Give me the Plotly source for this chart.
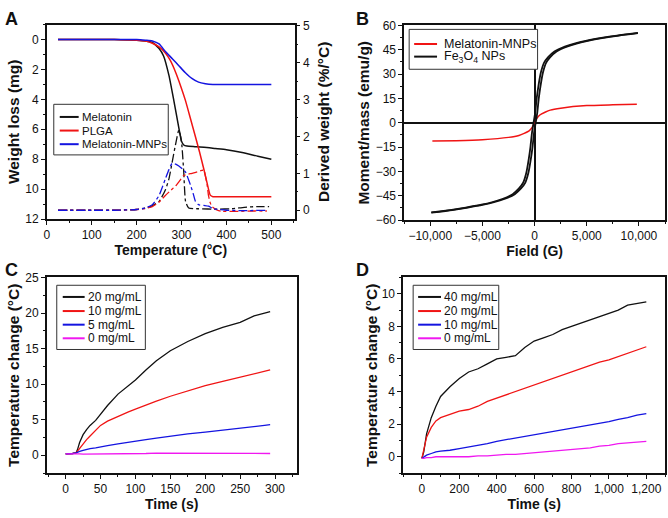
import plotly.graph_objects as go

# ---------------- Panel A data (TGA) ----------------
mel_T = [25, 150, 200, 220, 235, 250, 260, 272, 283, 294, 300, 305, 312, 330, 350, 375, 400, 435, 470, 500]
mel_W = [0, 0, 0.05, 0.1, 0.2, 0.6, 1.1, 2.4, 4.1, 5.9, 6.8, 7.05, 7.12, 7.16, 7.2, 7.28, 7.36, 7.55, 7.8, 8.0]
plga_T = [25, 150, 200, 220, 235, 250, 264, 275, 287, 298, 309, 320, 331, 340, 350, 357, 364, 370, 400, 450, 500]
plga_W = [0, 0, 0.05, 0.1, 0.25, 0.5, 0.9, 1.4, 2.2, 3.1, 4.1, 5.3, 6.5, 7.5, 8.7, 9.6, 10.4, 10.5, 10.5, 10.5, 10.5]
mnp_T = [25, 150, 200, 220, 235, 250, 264, 280, 294, 308, 323, 338, 353, 370, 400, 450, 500]
mnp_W = [0, 0, 0, 0.05, 0.1, 0.3, 0.8, 1.3, 1.75, 2.2, 2.6, 2.85, 2.95, 3.0, 3.0, 3.0, 3.0]

dmel_T = [25, 100, 150, 200, 220, 235, 250, 264, 272, 279, 287, 294, 298, 301, 305, 309, 316, 338, 380, 412, 440, 470, 495]
dmel_D = [0, 0, 0, 0.02, 0.06, 0.12, 0.24, 0.55, 0.85, 1.29, 1.8, 2.17, 2.0, 1.73, 1.03, 0.24, 0.06, 0.04, 0.03, 0.04, 0.08, 0.1, 0.1]
dplga_T = [25, 100, 150, 200, 220, 235, 250, 264, 277, 287, 296, 305, 323, 335, 345, 350, 353, 357, 360, 364, 368, 380, 390, 420, 460, 490]
dplga_D = [0, 0, 0, 0.02, 0.05, 0.1, 0.22, 0.4, 0.55, 0.66, 0.8, 0.94, 1.0, 1.04, 1.08, 1.08, 0.94, 0.7, 0.4, 0.2, 0.1, 0.0, -0.03, -0.03, -0.02, -0.02]
dmnp_T = [25, 100, 150, 200, 220, 235, 250, 264, 272, 279, 287, 294, 302, 309, 315, 320, 326, 331, 338, 350, 360, 371, 400, 440, 490]
dmnp_D = [0, 0, 0, 0.02, 0.06, 0.15, 0.4, 0.85, 1.1, 1.27, 1.25, 1.2, 1.12, 1.03, 0.85, 0.68, 0.45, 0.24, 0.15, 0.13, 0.11, 0.04, 0.0, -0.01, 0.0]

# ---------------- Panel B data (magnetization) ----------------
fe_up_H = [-9900, -7900, -6400, -4900, -3900, -2900, -1900, -1300, -900, -600, -350, -200, -50, 100, 250, 400, 550, 800, 1100, 1500, 2100, 3100, 4100, 5100, 6600, 8100, 9900]
fe_up_M = [-55.4, -53.8, -52.3, -50.5, -49, -47, -44, -40.5, -37, -31, -22, -15, -6, 0, 6, 15, 22, 31, 37, 40.5, 44, 47, 49, 50.5, 52.3, 53.8, 55.3]
fe_dn_H = [9900, 7900, 6400, 4900, 3900, 2900, 1900, 1300, 900, 600, 350, 200, 50, -100, -250, -400, -550, -800, -1100, -1500, -2100, -3100, -4100, -5100, -6600, -8100, -9900]
fe_dn_M = [55.4, 53.8, 52.3, 50.5, 49, 47, 44, 40.5, 37, 31, 22, 15, 6, 0, -6, -15, -22, -31, -37, -40.5, -44, -47, -49, -50.5, -52.3, -53.8, -55.3]
mm_H = [-9800, -7500, -5000, -2500, -1500, -1000, -500, -250, 0, 250, 500, 1000, 1500, 2500, 5000, 7500, 9800]
mm_M = [-11.3, -11.0, -10.4, -9.0, -7.8, -6.5, -4.8, -3.0, 0, 3.0, 4.8, 6.5, 7.8, 9.0, 10.6, 11.1, 11.5]

# ---------------- Panel C data ----------------
c_t = [0, 5, 10, 15, 17, 20, 25, 30, 35, 43, 50, 60, 75, 90, 100, 115, 130, 150, 175, 200, 225, 250, 270, 285, 293]
c_20 = [0.2, 0.2, 0.25, 0.35, 0.8, 1.8, 2.9, 3.6, 4.2, 4.9, 5.8, 7.0, 8.6, 9.8, 10.6, 12.0, 13.3, 14.7, 16.0, 17.1, 18.0, 18.7, 19.6, 20.0, 20.2]
c_10 = [0.2, 0.2, 0.25, 0.35, 0.6, 1.0, 1.6, 2.2, 2.7, 3.5, 4.2, 4.8, 5.5, 6.1, 6.5, 7.1, 7.6, 8.3, 9.1, 9.8, 10.4, 11.0, 11.4, 11.8, 12.0]
c_5 = [0.2, 0.2, 0.25, 0.35, 0.45, 0.55, 0.7, 0.85, 0.95, 1.05, 1.2, 1.35, 1.6, 1.85, 2.0, 2.2, 2.4, 2.7, 3.0, 3.25, 3.5, 3.8, 4.05, 4.2, 4.3]
c_0 = [0.2, 0.2, 0.25, 0.3, 0.3, 0.2, 0.15, 0.15, 0.2, 0.15, 0.15, 0.2, 0.15, 0.2, 0.2, 0.25, 0.3, 0.3, 0.25, 0.2, 0.2, 0.25, 0.2, 0.25, 0.25]

# ---------------- Panel D data ----------------
d_t = [0, 10, 25, 50, 75, 100, 150, 200, 250, 300, 350, 400, 450, 500, 550, 600, 650, 700, 750, 800, 850, 900, 950, 1000, 1050, 1100, 1150, 1200]
d_40 = [-0.1, 0.3, 1.4, 2.4, 3.1, 3.7, 4.3, 4.8, 5.2, 5.4, 5.7, 6.0, 6.1, 6.2, 6.7, 7.1, 7.3, 7.5, 7.8, 8.0, 8.2, 8.4, 8.6, 8.8, 9.0, 9.3, 9.4, 9.5]
d_20 = [-0.1, 0.5, 1.2, 1.8, 2.2, 2.4, 2.6, 2.8, 2.9, 3.1, 3.4, 3.6, 3.8, 4.0, 4.2, 4.4, 4.6, 4.8, 5.0, 5.2, 5.4, 5.6, 5.8, 5.95, 6.15, 6.35, 6.55, 6.75]
d_10 = [-0.1, 0.0, 0.1, 0.2, 0.3, 0.35, 0.4, 0.5, 0.6, 0.7, 0.8, 0.95, 1.05, 1.15, 1.25, 1.35, 1.45, 1.55, 1.65, 1.75, 1.85, 1.95, 2.05, 2.15, 2.3, 2.4, 2.55, 2.65]
d_0 = [-0.1, -0.1, -0.05, -0.05, 0.0, 0.0, 0.0, 0.0, 0.0, 0.05, 0.05, 0.1, 0.15, 0.15, 0.2, 0.25, 0.3, 0.35, 0.4, 0.45, 0.5, 0.55, 0.65, 0.7, 0.8, 0.85, 0.9, 0.95]

# legend labels
legA = ["Melatonin", "PLGA", "Melatonin-MNPs"]
legB = ["Melatonin-MNPs", "Fe<sub>3</sub>O<sub>4</sub> NPs"]
legC = ["20 mg/mL", "10 mg/mL", "5 mg/mL", "0 mg/mL"]
legD = ["40 mg/mL", "20 mg/mL", "10 mg/mL", "0 mg/mL"]

BLACK = "#111111"
RED = "#f01414"
BLUE = "#1414e0"
MAG = "#f018f0"
FONT = "Liberation Sans"

fig = go.Figure()

def line(x, y, color, name, xa, ya, dash="solid", width=1.5, spline=True):
    ln = dict(color=color, width=width, dash=dash)
    if spline:
        ln.update(shape="spline", smoothing=0.5)
    fig.add_trace(go.Scatter(x=x, y=y, mode="lines", name=name, xaxis=xa, yaxis=ya,
                             line=ln, showlegend=False))

# Panel A
line(mel_T, mel_W, BLACK, legA[0], "x", "y")
line(plga_T, plga_W, RED, legA[1], "x", "y")
line(mnp_T, mnp_W, BLUE, legA[2], "x", "y")
line(dmel_T, dmel_D, BLACK, legA[0] + " (derived)", "x", "y2", "dashdot", 1.3)
line(dplga_T, dplga_D, RED, legA[1] + " (derived)", "x", "y2", "dashdot", 1.3)
line(dmnp_T, dmnp_D, BLUE, legA[2] + " (derived)", "x", "y2", "dashdot", 1.3)

# Panel B
line(mm_H, mm_M, RED, legB[0], "x2", "y3")
line(fe_up_H, fe_up_M, BLACK, legB[1], "x2", "y3", width=1.8)
line(fe_dn_H, fe_dn_M, BLACK, legB[1], "x2", "y3", width=1.8)

# Panel C
for yy, col, nm in zip([c_20, c_10, c_5, c_0], [BLACK, RED, BLUE, MAG], legC):
    line(c_t, yy, col, nm, "x3", "y4", width=1.3, spline=False)
# Panel D
for yy, col, nm in zip([d_40, d_20, d_10, d_0], [BLACK, RED, BLUE, MAG], legD):
    line(d_t, yy, col, nm, "x4", "y5", width=1.3, spline=False)

W, H = 668, 518
def px(a, b):
    return [a / W, b / W]
def py(top, bottom):
    return [1 - bottom / H, 1 - top / H]

tickfont = dict(family=FONT, size=12, color="#111")
xtitlefont = dict(family=FONT, size=14, color="#111", weight="bold")
ytitlefont = dict(family=FONT, size=15.5, color="#111", weight="bold")

def axis(domain, rng, dtick, minor_dtick, anchor, title, tfont, side=None, overlaying=None,
         fmt=None, standoff=4, mirror=True, zeroline=False):
    d = dict(range=rng, dtick=dtick, tick0=0, showgrid=False, showline=True, linecolor="#111",
             linewidth=1.6, mirror=mirror, ticks="outside", ticklen=4, tickwidth=1.2,
             tickcolor="#111", tickfont=tickfont, anchor=anchor,
             title=dict(text=title, font=tfont, standoff=standoff),
             minor=dict(dtick=minor_dtick, tick0=0, ticks="outside", ticklen=2, tickwidth=1, tickcolor="#111"),
             zeroline=zeroline, zerolinecolor="#111", zerolinewidth=2)
    if domain is not None:
        d["domain"] = domain
    if side:
        d["side"] = side
    if overlaying:
        d["overlaying"] = overlaying
    if fmt:
        d["tickformat"] = fmt
    return d

fig.update_layout(
    width=W, height=H, margin=dict(l=0, r=0, t=0, b=0),
    paper_bgcolor="white", plot_bgcolor="white",
    font=dict(family=FONT, color="#111"),
    showlegend=False,
    xaxis=axis(px(44, 293), [0, 552], 100, 50, "y", "Temperature (°C)", xtitlefont, standoff=2),
    yaxis=axis(py(18, 218), [12, -1], 2, 1, "x", "Weight loss (mg)", ytitlefont, mirror=False, standoff=2),
    yaxis2=axis(None, [-0.24, 5.03], 1, 0.5, "x", "Derived weight (%/°C)", ytitlefont, side="right", overlaying="y", mirror=False, standoff=9),
    xaxis2=axis(px(403, 665), [-12500, 12500], 5000, 2500, "y3", "Field (G)", xtitlefont, fmt=",d", zeroline=True, standoff=2),
    yaxis3=axis(py(19, 219), [-60, 60], 15, 7.5, "x2", "Moment/mass (emu/g)", ytitlefont, zeroline=True, standoff=2),
    xaxis3=axis(px(44, 295), [-27, 331], 50, 25, "y4", "Time (s)", xtitlefont, standoff=4),
    yaxis4=axis(py(278, 479), [-2.5, 25], 5, 2.5, "x3", "Temperature change (°C)", ytitlefont, standoff=2),
    xaxis4=axis(px(402, 665), [-100, 1300], 200, 100, "y5", "Time (s)", xtitlefont, fmt=",d", standoff=4),
    yaxis5=axis(py(278, 479), [-1, 11], 2, 1, "x4", "Temperature change (°C)", ytitlefont, standoff=0),
)

# manual legends (box, sample line, label) in pixel layout coordinates
def legend(box, line_x, text_x, rows, labels, colors, fsize):
    x0, y0, x1, y1 = box
    fig.add_shape(type="rect", xref="paper", yref="paper",
                  x0=x0 / W, x1=x1 / W, y0=1 - y1 / H, y1=1 - y0 / H,
                  line=dict(color="#333", width=1), fillcolor="white", layer="above")
    for r, lab, col in zip(rows, labels, colors):
        fig.add_shape(type="line", xref="paper", yref="paper",
                      x0=line_x[0] / W, x1=line_x[1] / W, y0=1 - r / H, y1=1 - r / H,
                      line=dict(color=col, width=2), layer="above")
        fig.add_annotation(text=lab, x=text_x / W, y=1 - r / H, xref="paper", yref="paper",
                           xanchor="left", yanchor="middle", showarrow=False, borderpad=0,
                           font=dict(family=FONT, size=fsize, color="#111"))

legend((51, 100, 166, 152), (57, 76), 78, [113, 127, 141], legA, [BLACK, RED, BLUE], 11.5)
legend((408, 23, 537, 64), (413, 436), 442, [38, 51], legB, [RED, BLACK], 12.5)
legend((54, 286, 143, 352), (60, 82), 84, [298, 312.5, 326.5, 340.5], legC, [BLACK, RED, BLUE, MAG], 12)
legend((412, 286, 498, 352), (417, 440), 442, [298, 312.5, 326.5, 340.5], legD, [BLACK, RED, BLUE, MAG], 12)

letters = [("A", 1, 1), ("B", 354, 1), ("C", 1, 259), ("D", 354, 259)]
for t, x, y in letters:
    fig.add_annotation(text=t, x=x / W, y=1 - y / H, xref="paper", yref="paper",
                       xanchor="left", yanchor="top", showarrow=False, borderpad=0,
                       font=dict(family=FONT, size=18, color="#111", weight="bold"))

fig.write_html("out.html", config={"displayModeBar": False},
               post_script="document.body.style.margin='0';document.body.style.padding='0';")
